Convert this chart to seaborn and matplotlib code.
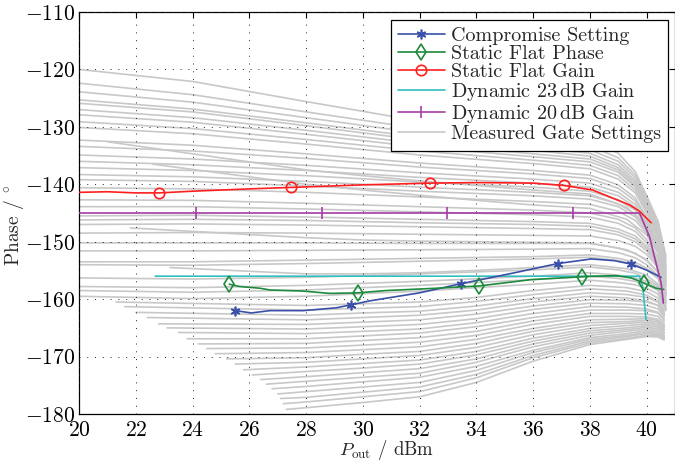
import numpy as np
import pandas as pd
import matplotlib
matplotlib.use("Agg")
import matplotlib.pyplot as plt
from matplotlib.lines import Line2D
import seaborn as sns

# ---------------- data ----------------
X_TICKS = [20, 22, 24, 26, 28, 30, 32, 34, 36, 38, 40]
Y_TICKS = [-180, -170, -160, -150, -140, -130, -120, -110]

# measured gate settings that start at 20 dBm (y at UPPER_X)
UPPER_X = [20, 24, 28, 32, 36, 38, 39.0, 39.6, 40.0, 40.4, 40.68]
UPPER_Y = [
    [-120.0, -122.1, -125.6, -129.0, -131.2, -132.4, -134.6, -137.8, -142.0, -146.4, -152.5],
    [-122.4, -124.4, -127.4, -130.3, -132.3, -133.3, -135.4, -138.4, -142.4, -146.8, -153.0],
    [-123.9, -125.7, -128.4, -131.1, -133.0, -134.0, -136.0, -138.9, -142.8, -147.2, -153.5],
    [-125.3, -126.9, -129.3, -131.8, -133.6, -134.6, -136.6, -139.4, -143.2, -147.6, -154.0],
    [-125.9, -127.4, -129.8, -132.3, -134.1, -135.1, -137.1, -139.8, -143.5, -147.9, -154.4],
    [-127.0, -128.4, -130.6, -132.9, -134.7, -135.6, -137.5, -140.2, -143.9, -148.3, -154.8],
    [-127.9, -129.2, -131.3, -133.5, -135.2, -136.1, -137.9, -140.5, -144.2, -148.6, -155.1],
    [-129.1, -130.3, -132.2, -134.2, -135.8, -136.7, -138.5, -141.0, -144.6, -149.0, -155.4],
    [-130.1, -131.2, -133.0, -134.9, -136.4, -137.3, -139.1, -141.5, -145.0, -149.3, -155.7],
    [-132.3, -133.2, -134.7, -136.3, -137.6, -138.4, -140.1, -142.4, -145.7, -149.9, -156.1],
    [-133.4, -134.2, -135.5, -137.0, -138.2, -139.0, -140.7, -142.9, -146.1, -150.2, -156.4],
    [-134.9, -135.6, -136.7, -138.0, -139.1, -139.8, -141.4, -143.5, -146.6, -150.6, -156.7],
    [-136.0, -136.6, -137.6, -138.8, -139.8, -140.5, -142.0, -144.0, -146.9, -150.8, -156.9],
    [-137.1, -137.6, -138.5, -139.6, -140.5, -141.2, -142.7, -144.5, -147.2, -151.0, -157.1],
    [-138.3, -138.7, -139.5, -140.5, -141.4, -142.0, -143.4, -145.2, -147.7, -151.3, -157.4],
    [-139.2, -139.5, -140.3, -141.2, -142.0, -142.6, -143.9, -145.7, -148.1, -151.6, -157.6],
    [-140.6, -140.8, -141.4, -142.2, -143.0, -143.5, -144.7, -146.3, -148.5, -151.9, -157.8],
    [-142.7, -142.8, -143.3, -143.9, -144.5, -145.0, -146.1, -147.6, -149.6, -152.7, -158.4],
    [-143.9, -143.9, -144.3, -144.8, -145.3, -145.7, -146.8, -148.2, -150.2, -153.2, -158.8],
    [-145.5, -145.4, -145.7, -146.1, -146.5, -146.8, -147.8, -149.0, -150.8, -153.5, -159.0],
    [-146.2, -146.1, -146.3, -146.7, -147.0, -147.3, -148.3, -149.5, -151.2, -153.8, -159.2],
    [-147.0, -146.9, -147.1, -147.4, -147.7, -147.9, -148.8, -150.0, -151.6, -154.2, -159.4],
    [-148.5, -148.4, -148.5, -148.7, -148.9, -149.0, -149.8, -150.8, -152.2, -154.5, -159.7],
    [-150.2, -150.2, -150.2, -150.3, -150.3, -150.3, -151.1, -152.0, -153.3, -155.3, -160.1],
    [-151.6, -151.6, -151.5, -151.4, -151.3, -151.2, -151.9, -152.8, -154.0, -155.9, -160.4],
    [-153.5, -153.5, -153.2, -152.9, -152.6, -152.3, -152.9, -153.6, -154.6, -156.1, -160.6],
    [-154.0, -154.1, -153.8, -153.4, -153.0, -152.7, -153.3, -154.0, -154.9, -156.4, -160.8],
    [-156.3, -156.5, -156.2, -155.6, -154.9, -154.4, -154.9, -155.5, -156.4, -157.7, -161.2],
    [-157.8, -158.0, -157.6, -156.9, -156.0, -155.4, -155.8, -156.3, -156.9, -158.0, -161.5],
    [-158.5, -158.8, -158.4, -157.6, -156.6, -156.0, -156.4, -156.9, -157.5, -158.5, -161.8],
    [-159.5, -159.9, -159.5, -158.6, -157.4, -156.7, -157.1, -157.5, -158.1, -159.1, -162.0],
]

# measured gate settings that start later (start point, then y at LATE_X)
LATE_X = [28, 30, 32, 34, 36, 38, 39.3, 40.0, 40.4, 40.62]
LATE_START_X = [21.3, 21.6, 22.0, 22.4, 22.8, 23.1, 23.5, 23.8, 24.2, 24.5, 24.8, 25.2, 25.5,
                25.8, 26.1, 26.4, 26.6, 26.8, 27.0, 27.1, 27.2, 27.3, 21.0, 21.8, 22.6, 23.2]
LATE_START_Y = [-160.5, -161.3, -162.3, -163.2, -164.3, -165.0, -165.8, -166.9, -167.8, -168.6,
                -169.5, -170.4, -171.3, -172.3, -173.2, -174.0, -174.8, -175.6, -176.5, -177.3,
                -178.2, -179.2, -132.6, -147.6, -136.5, -154.5]
LATE_Y = [
    [-161.1, -160.8, -160.5, -159.7, -158.5, -157.6, -158.0, -158.7, -159.8, -162.1],
    [-161.9, -161.6, -161.3, -160.4, -159.2, -158.2, -158.6, -159.3, -160.4, -162.7],
    [-162.8, -162.4, -162.1, -161.2, -159.9, -158.9, -159.2, -159.7, -160.5, -162.3],
    [-163.6, -163.2, -162.8, -161.9, -160.5, -159.5, -159.8, -160.3, -161.1, -162.9],
    [-164.4, -164.0, -163.6, -162.6, -161.2, -160.1, -160.2, -160.5, -161.1, -162.5],
    [-165.2, -164.8, -164.4, -163.4, -161.8, -160.7, -160.8, -161.1, -161.7, -163.1],
    [-166.0, -165.6, -165.2, -164.1, -162.5, -161.3, -161.4, -161.7, -162.3, -163.7],
    [-166.9, -166.4, -165.9, -164.8, -163.2, -161.9, -161.9, -162.0, -162.4, -163.5],
    [-167.7, -167.2, -166.7, -165.6, -163.8, -162.5, -162.5, -162.6, -163.0, -164.1],
    [-168.5, -168.0, -167.5, -166.3, -164.4, -163.0, -163.0, -163.1, -163.5, -164.6],
    [-169.3, -168.8, -168.3, -167.0, -165.1, -163.6, -163.5, -163.4, -163.7, -164.5],
    [-170.2, -169.6, -169.1, -167.7, -165.6, -164.1, -163.9, -163.7, -164.0, -164.8],
    [-171.0, -170.4, -169.8, -168.4, -166.2, -164.6, -164.2, -164.0, -164.3, -165.0],
    [-171.8, -171.2, -170.6, -169.1, -166.8, -165.1, -164.6, -164.3, -164.6, -165.3],
    [-172.6, -172.0, -171.3, -169.7, -167.3, -165.5, -165.0, -164.6, -164.9, -165.5],
    [-173.5, -172.8, -172.1, -170.4, -167.8, -165.9, -165.3, -164.9, -165.2, -165.8],
    [-174.3, -173.6, -172.9, -171.0, -168.3, -166.3, -165.6, -165.2, -165.5, -166.0],
    [-175.2, -174.4, -173.6, -171.7, -168.9, -166.7, -166.0, -165.5, -165.8, -166.3],
    [-176.1, -175.3, -174.5, -172.4, -169.3, -167.0, -166.3, -165.8, -166.0, -166.5],
    [-177.1, -176.2, -175.3, -173.1, -169.8, -167.3, -166.5, -166.0, -166.2, -166.7],
    [-177.9, -177.0, -176.1, -173.7, -170.2, -167.6, -166.8, -166.3, -166.4, -166.9],
    [-178.9, -178.0, -177.0, -174.5, -170.8, -167.9, -167.0, -166.5, -166.6, -167.1],
    [-137.5, -138.5, -139.4, -140.2, -141.0, -141.7, -144.0, -147.2, -150.8, -156.0],
    [-149.3, -149.7, -149.9, -150.0, -150.1, -150.2, -151.4, -153.1, -155.3, -159.5],
    [-140.0, -141.0, -141.9, -142.8, -143.6, -144.2, -146.1, -148.8, -152.0, -157.0],
    [-155.6, -155.6, -155.4, -155.0, -154.5, -154.0, -154.7, -155.8, -157.4, -160.8],
]

COMP_X = [25.5, 26.07, 26.72, 27.9, 29.07, 29.57, 30.24, 32.0, 33.47, 35.35, 36.87,
          38.05, 38.87, 39.45, 39.98, 40.51]
COMP_Y = [-162.0, -162.4, -162.0, -162.0, -161.5, -161.0, -160.3, -158.9, -157.3, -155.4,
          -153.8, -153.0, -153.3, -153.9, -154.9, -156.2]
COMP_MARK = [0, 5, 8, 10, 13]

PHASE_X = [25.29, 25.66, 26.37, 26.72, 27.9, 28.84, 29.83, 30.83, 32.59, 34.1, 35.93,
           37.73, 38.9, 39.45, 39.92, 40.33, 40.6]
PHASE_Y = [-157.4, -157.8, -158.1, -158.4, -158.6, -159.0, -158.9, -158.5, -158.1, -157.7,
           -156.6, -156.1, -155.9, -156.3, -157.2, -158.1, -158.3]
PHASE_MARK = [0, 6, 9, 11, 14]

GAIN_X = [20.0, 21.0, 22.0, 22.83, 24.0, 26.0, 27.45, 30.0, 32.35, 34.0, 36.0, 37.08,
          38.1, 39.4, 39.75, 40.16]
GAIN_Y = [-141.4, -141.3, -141.5, -141.5, -141.2, -140.8, -140.55, -140.1, -139.8,
          -139.7, -139.8, -140.2, -141.0, -143.6, -144.7, -146.7]
GAIN_MARK = [3, 6, 8, 11]

DYN23_X = [22.68, 39.75, 39.86, 39.92, 39.98]
DYN23_Y = [-156.0, -156.0, -157.8, -160.7, -163.6]

DYN20_X = [20.0, 24.12, 28.55, 32.97, 37.39, 39.75, 40.1, 40.33, 40.51, 40.59]
DYN20_Y = [-145.0, -145.0, -145.0, -145.0, -145.0, -145.0, -149.1, -153.7, -157.2, -160.7]
DYN20_MARK = [1, 2, 3, 4]

LABELS = ["Compromise Setting", "Static Flat Phase", "Static Flat Gain",
          r"Dynamic 23$\,$dB Gain", r"Dynamic 20$\,$dB Gain", "Measured Gate Settings"]

# ---------------- build gray-curve table ----------------
rows = []
cid = 0
for yrow in UPPER_Y:
    for x, y in zip(UPPER_X, yrow):
        rows.append((cid, x, y))
    cid += 1
for sx, sy, yrow in zip(LATE_START_X, LATE_START_Y, LATE_Y):
    rows.append((cid, sx, sy))
    for x, y in zip(LATE_X, yrow):
        if x > sx:
            rows.append((cid, x, y))
    cid += 1
gray = pd.DataFrame(rows, columns=["curve", "x", "y"])

# ---------------- style ----------------
sns.set_theme(style="white")
plt.rcParams["font.family"] = ["cmr10", "DejaVu Serif"]
plt.rcParams["mathtext.fontset"] = "cm"
plt.rcParams["axes.formatter.use_mathtext"] = True
plt.rcParams["axes.unicode_minus"] = True

GRAY = "#c8c8c8"
BLUE = "#3a4fa8"
GREEN = "#1d8a3c"
RED = "#ff1f1f"
CYAN = "#33bfbf"
MAGENTA = "#a23ea6"

fig = plt.figure(figsize=(6.75, 4.63), dpi=100)
ax = fig.add_axes([0.1173, 0.1058, 0.8827, 0.8683])

sns.lineplot(data=gray, x="x", y="y", units="curve", estimator=None, sort=False,
             color=GRAY, linewidth=1.2, legend=False, ax=ax, zorder=2)

lw = 1.2
ax.plot(COMP_X, COMP_Y, color=BLUE, lw=lw, marker=(6, 2, 0), ms=7, mew=1.2,
        markevery=COMP_MARK, zorder=5)
ax.plot(PHASE_X, PHASE_Y, color=GREEN, lw=lw, marker="d", ms=8, mfc="none", mew=1.2,
        markevery=PHASE_MARK, zorder=5)
ax.plot(GAIN_X, GAIN_Y, color=RED, lw=lw, marker="o", ms=7.5, mfc="none", mew=1.2,
        markevery=GAIN_MARK, zorder=5)
ax.plot(DYN23_X, DYN23_Y, color=CYAN, lw=lw, zorder=4)
ax.plot(DYN20_X, DYN20_Y, color=MAGENTA, lw=lw, marker="|", ms=8, mew=1.2,
        markevery=DYN20_MARK, zorder=5)

ax.set_xlim(20, 41)
ax.set_ylim(-180, -110)
ax.set_xticks(X_TICKS)
ax.set_yticks(Y_TICKS)
ax.set_axisbelow(False)
ax.grid(True, color="#222222", linestyle=(0, (1, 7)), linewidth=0.7, zorder=3)
ax.tick_params(direction="in", top=True, right=True, length=4, width=0.8,
               labelsize=15.5, colors="black")
ax.tick_params(axis="x", pad=4.8)
ax.tick_params(axis="y", pad=3)
for s in ax.spines.values():
    s.set_color("black")
    s.set_linewidth(0.9)

ax.set_xlabel(r"$P_{\mathrm{out}}$ / dBm", fontsize=13.5, va="bottom")
ax.set_ylabel(r"Phase / $^{\circ}$", fontsize=14)
ax.xaxis.set_label_coords(0.515, -(462.3 - 414) / 402)
ax.yaxis.set_label_coords(-0.089, 0.47)

handles = [
    Line2D([], [], color=BLUE, lw=lw, marker=(6, 2, 0), ms=7, mew=1.2),
    Line2D([], [], color=GREEN, lw=lw, marker="d", ms=8, mfc="none", mew=1.2),
    Line2D([], [], color=RED, lw=lw, marker="o", ms=7.5, mfc="none", mew=1.2),
    Line2D([], [], color=CYAN, lw=lw),
    Line2D([], [], color=MAGENTA, lw=lw, marker="|", ms=8, mew=1.2),
    Line2D([], [], color=GRAY, lw=1.2),
]
leg = ax.legend(handles, LABELS, loc="upper right", bbox_to_anchor=(0.988, 0.980),
                borderaxespad=0, fontsize=14.5, frameon=True, fancybox=False,
                framealpha=1, edgecolor="black", handlelength=2.3, handletextpad=0.3,
                labelspacing=0.0, borderpad=0.35)
leg.get_frame().set_linewidth(0.9)
leg.set_zorder(10)

fig.savefig("out.png", dpi=100)
